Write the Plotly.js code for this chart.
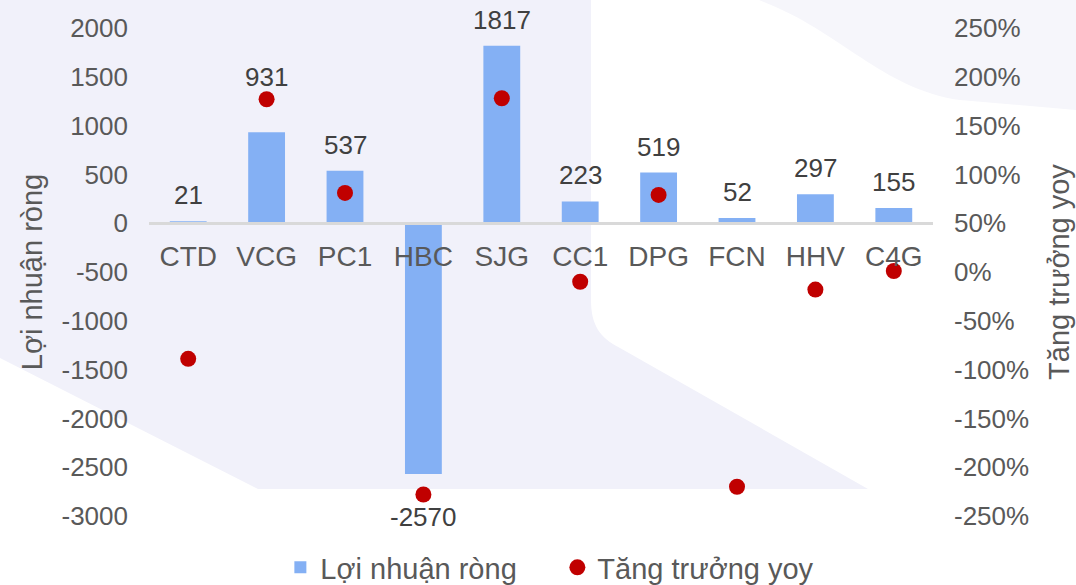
<!DOCTYPE html>
<html>
<head>
<meta charset="utf-8">
<script src="https://cdn.plot.ly/plotly-3.0.1.min.js"></script>
<style>
  body { margin: 0; background: #ffffff; }
  #wrap { position: relative; width: 1076px; height: 585px; }
  #bg { position: absolute; left: 0; top: 0; }
  #chart { position: absolute; left: 0; top: 0; width: 1076px; height: 585px; }
</style>
</head>
<body>
<div id="wrap">
  <svg id="bg" width="1076" height="585">
    <rect x="0" y="0" width="1076" height="585" fill="#ffffff"/>
    <path d="M0,0 L591,0 L591,300 C591,325 600,338 620,348 L868,489 L258,489 L0,358 Z" fill="#f1f1fa"/>
    <path d="M759,0 C840,30 880,88 960,100 L1076,110 L1076,0 Z" fill="#f6f6fb"/>
  </svg>
  <div id="chart"></div>
</div>
<script>
// ticker codes
var tickers = ['CTD', 'VCG', 'PC1', 'HBC', 'SJG', 'CC1', 'DPG', 'FCN', 'HHV', 'C4G'];
// net profit (bars, left axis)
var profit = [21, 931, 537, -2570, 1817, 223, 519, 52, 297, 155];
// yoy growth (dots, right axis), as fraction
var growth = [-0.89, 1.77, 0.81, -2.28, 1.78, -0.10, 0.79, -2.20, -0.18, 0.01];

var leftTicks = [-3000, -2500, -2000, -1500, -1000, -500, 0, 500, 1000, 1500, 2000];
var rightTicks = [-2.5, -2, -1.5, -1, -0.5, 0, 0.5, 1, 1.5, 2, 2.5];

var leftRange = [-3000, 2000];
var rightRange = [-2.5, 2.5];

var fontFam = '"Liberation Sans", Arial, sans-serif';
var grey = '#595959';

var plotH = 585 - 28 - 69;
var pxPerUnit = plotH / (leftRange[1] - leftRange[0]);

// where a right-axis value sits on the left axis scale
function toLeft(g) {
    return leftRange[0] + (g - rightRange[0]) / (rightRange[1] - rightRange[0]) * (leftRange[1] - leftRange[0]);
}

var annos = [];
for (var i = 0; i < tickers.length; i++) {
    var v = profit[i];
    var dir = v >= 0 ? 1 : -1;
    var y = v, shift = dir * 26;
    var dotL = toLeft(growth[i]);
    // move label past the dot if they would overlap
    if (Math.abs(v * pxPerUnit + shift - dotL * pxPerUnit) < 22) {
        y = dotL;
        shift = dir * 22;
    }
    annos.push({
        x: tickers[i], y: y, xref: 'x', yref: 'y',
        text: String(v), showarrow: false, yshift: shift,
        yanchor: 'middle',
        font: { family: fontFam, size: 26, color: '#404040' }
    });
}

var bars = {
    x: tickers,
    y: profit,
    type: 'bar',
    name: 'Lợi nhuận ròng',
    marker: { color: '#84b0f4' },
    hoverinfo: 'x+y'
};

var dots = {
    x: tickers,
    y: growth,
    type: 'scatter',
    mode: 'markers',
    name: 'Tăng trưởng yoy',
    yaxis: 'y2',
    marker: { color: '#c00000', size: 16 },
    cliponaxis: false
};

var layout = {
    width: 1076,
    height: 585,
    margin: { l: 149, r: 143, t: 28, b: 69 },
    paper_bgcolor: 'rgba(0,0,0,0)',
    plot_bgcolor: 'rgba(0,0,0,0)',
    font: { family: fontFam, color: grey },
    bargap: 0.53,
    showlegend: true,
    legend: {
        orientation: 'h',
        xref: 'container', yref: 'container',
        x: 0.518, xanchor: 'center',
        y: 0.03, yanchor: 'middle',
        entrywidth: 232,
        font: { size: 29, color: grey },
        bgcolor: 'rgba(0,0,0,0)'
    },
    xaxis: {
        type: 'category',
        range: [-0.5, tickers.length - 0.5],
        anchor: 'free',
        position: (0 - leftRange[0]) / (leftRange[1] - leftRange[0]),
        showline: true,
        linecolor: '#d9d9d9',
        linewidth: 3,
        ticks: '',
        ticklabelstandoff: 7,
        tickfont: { size: 28, color: grey },
        showgrid: false,
        zeroline: false
    },
    yaxis: {
        range: leftRange,
        tickvals: leftTicks,
        ticktext: leftTicks.map(function (t) { return String(t); }),
        ticks: '',
        ticklabelstandoff: 20,
        tickfont: { size: 26, color: grey },
        showgrid: false,
        zeroline: false,
        automargin: false,
        title: { text: 'Lợi nhuận ròng', font: { size: 29, color: grey }, standoff: 10 }
    },
    yaxis2: {
        range: rightRange,
        overlaying: 'y',
        side: 'right',
        tickvals: rightTicks,
        ticktext: rightTicks.map(function (t) { return Math.round(t * 100) + '%'; }),
        ticks: '',
        ticklabelstandoff: 20,
        tickfont: { size: 26, color: grey },
        showgrid: false,
        zeroline: false,
        automargin: false,
        title: { text: 'Tăng trưởng yoy', font: { size: 29, color: grey }, standoff: 20 }
    },
    annotations: annos
};

Plotly.newPlot('chart', [bars, dots], layout, { displayModeBar: false, staticPlot: true });
</script>
</body>
</html>
